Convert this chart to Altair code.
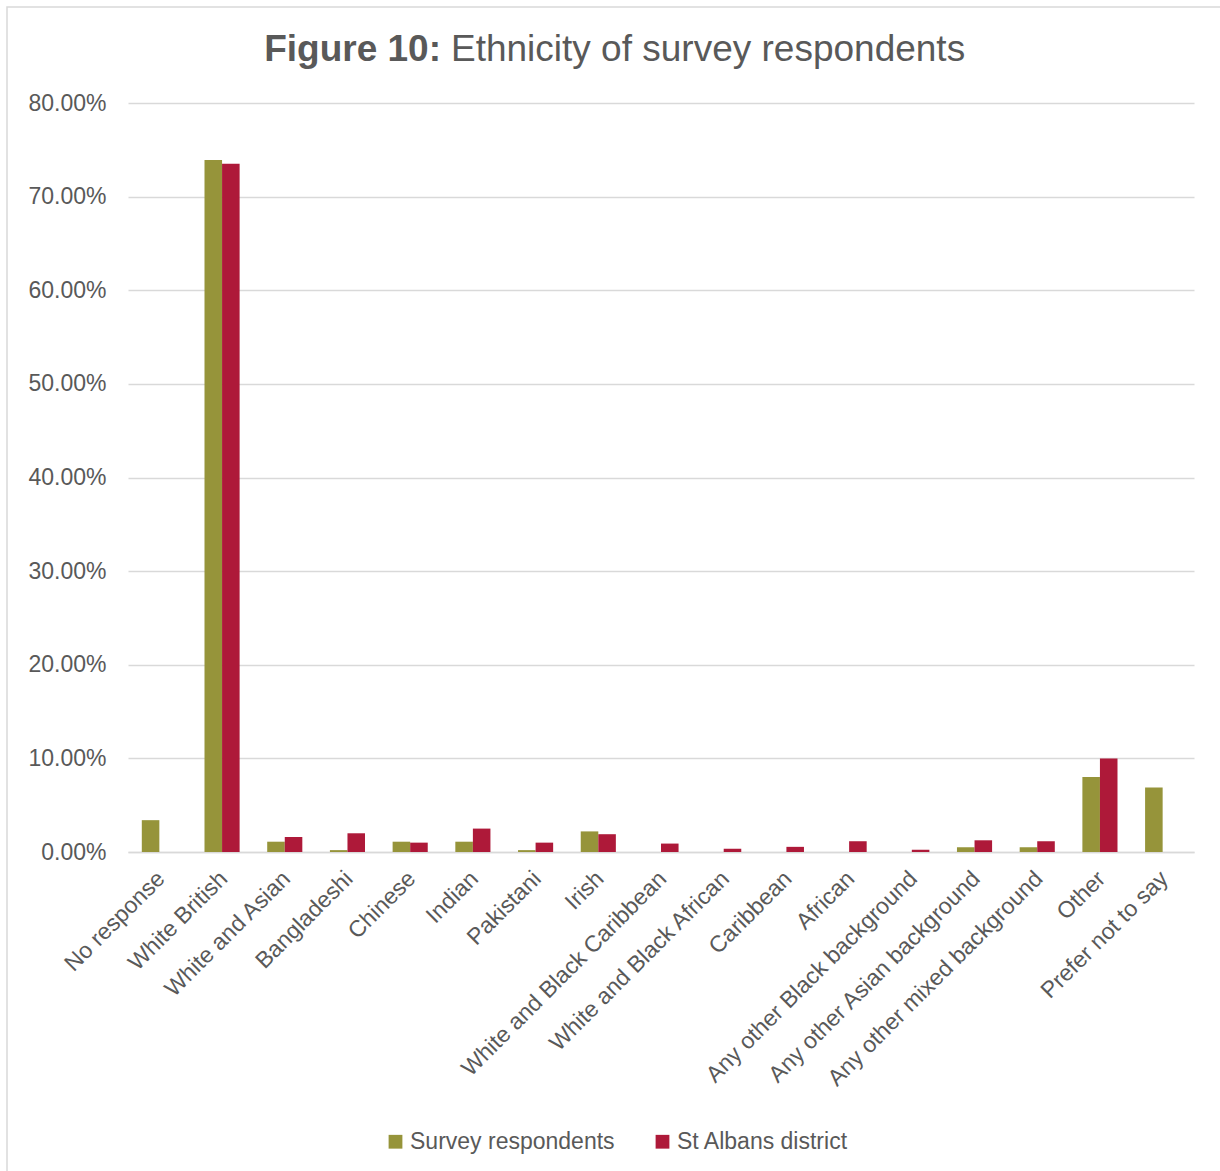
import altair as alt
import pandas as pd

categories = ["No response", "White British", "White and Asian", "Bangladeshi", "Chinese",
              "Indian", "Pakistani", "Irish", "White and Black Caribbean",
              "White and Black African", "Caribbean", "African", "Any other Black background",
              "Any other Asian background", "Any other mixed background", "Other",
              "Prefer not to say"]
survey = [3.4, 73.9, 1.1, 0.2, 1.1, 1.1, 0.2, 2.2, 0.0, 0.0, 0.0, 0.0, 0.0, 0.5, 0.5, 8.0, 6.9]
district = [0.0, 73.5, 1.6, 2.0, 1.0, 2.5, 1.0, 1.9, 0.9, 0.35, 0.55, 1.15, 0.25, 1.25, 1.15, 10.0, 0.0]
series = ["Survey respondents", "St Albans district"]
colors = ["#96943A", "#AE1939"]

rows = []
for c, s, d in zip(categories, survey, district):
    rows.append({"cat": c, "series": series[0], "value": s / 100})
    rows.append({"cat": c, "series": series[1], "value": d / 100})
df = pd.DataFrame(rows)

FONT = "Liberation Sans"
GREY = "#595959"
W, H = 1066, 749
LEFT, TOP = 128, 103
FS = 23

bars = alt.Chart(df).mark_bar().encode(
    x=alt.X("cat:N", sort=categories, title=None,
            scale=alt.Scale(paddingInner=0.44, paddingOuter=0.22),
            axis=alt.Axis(labelAngle=-45, labelFontSize=FS, labelColor=GREY, labelFont=FONT,
                          ticks=False, domainColor="#d9d9d9", domainWidth=1.5,
                          labelPadding=15, labelOffset=-6, labelLimit=500)),
    xOffset=alt.XOffset("series:N", sort=series, scale=alt.Scale(paddingInner=0, paddingOuter=0)),
    y=alt.Y("value:Q", title=None,
            scale=alt.Scale(domain=[0, 0.8], nice=False),
            axis=alt.Axis(format=".2%", values=[i / 10 for i in range(9)],
                          labelFontSize=FS, labelColor=GREY, labelFont=FONT,
                          domain=False, ticks=False, labelPadding=22,
                          gridColor="#d9d9d9", gridWidth=1.5)),
    color=alt.Color("series:N", sort=series,
                    scale=alt.Scale(domain=series, range=colors),
                    legend=alt.Legend(title=None, orient="none", legendX=256, legendY=1027,
                                      direction="horizontal", symbolType="square",
                                      symbolSize=190, symbolStrokeWidth=0,
                                      labelFontSize=FS, labelColor=GREY, labelFont=FONT,
                                      labelLimit=400, columnPadding=36, symbolOffset=0,
                                      labelOffset=3)),
)

title_bold = alt.Chart(pd.DataFrame({"t": ["Figure 10:"]})).mark_text(
    font=FONT, fontSize=37, fontWeight="bold", color=GREY, align="right", baseline="middle"
).encode(text="t:N", x=alt.value(441 - LEFT), y=alt.value(50 - TOP))

title_norm = alt.Chart(pd.DataFrame({"t": ["Ethnicity of survey respondents"]})).mark_text(
    font=FONT, fontSize=37, color=GREY, align="left", baseline="middle"
).encode(text="t:N", x=alt.value(451 - LEFT), y=alt.value(50 - TOP))

border = alt.Chart(pd.DataFrame({"a": [0]})).mark_rect(
    fill="transparent", stroke="#d9d9d9", strokeWidth=1.5
).encode(x=alt.value(7 - LEFT), x2=alt.value(1240 - LEFT),
         y=alt.value(7 - TOP), y2=alt.value(1190 - TOP))

chart = alt.layer(border, bars, title_bold, title_norm).properties(
    width=W, height=H,
    background="white",
    autosize=alt.AutoSizeParams(type="none"),
    padding={"left": LEFT, "top": TOP, "right": 1220 - LEFT - W, "bottom": 1171 - TOP - H},
).configure_view(strokeWidth=0, stroke="transparent")

chart.save("out.html", embed_options={"renderer": "svg", "actions": False})
